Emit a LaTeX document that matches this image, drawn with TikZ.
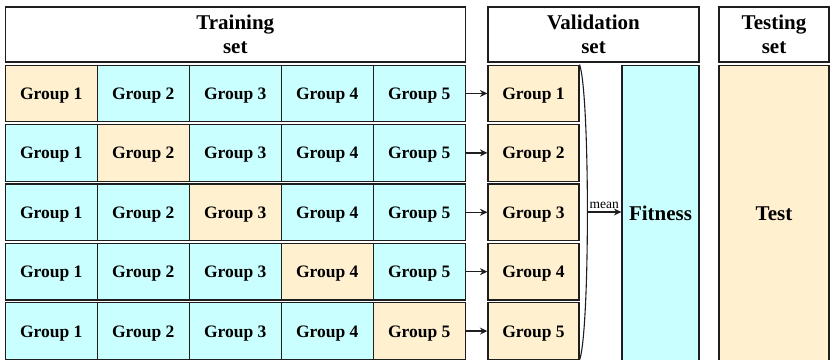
\documentclass[tikz,border=0pt]{standalone}
\usepackage{fontspec}
\setmainfont{Liberation Serif}
\usetikzlibrary{arrows.meta}
\definecolor{peach}{HTML}{FFF0CF}
\definecolor{aqua}{HTML}{C9FFFF}
\definecolor{edge}{HTML}{1E1E1E}
\begin{document}
\begin{tikzpicture}[x=1pt,y=-1pt,
  cellbox/.style={draw=edge,line width=1.2pt,minimum width=92pt,minimum height=56.5pt,inner sep=0pt,
    text height=12pt,text depth=0pt,
    font=\fontsize{17.5}{20}\selectfont\bfseries},
  trn/.style={cellbox,fill=aqua},
  hold/.style={cellbox,fill=peach},
  headbox/.style={draw=edge,line width=1.2pt,inner sep=0pt,align=center,
    font=\fontsize{21}{23.5}\selectfont\bfseries},
  bigbox/.style={draw=edge,line width=1.2pt,inner sep=0pt,text height=14pt,text depth=0pt,
    font=\fontsize{21}{24}\selectfont\bfseries},
  conn/.style={line width=1.5pt,draw=edge,-{Stealth[length=7.5pt,width=7pt,inset=2.5pt]}}]
\useasboundingbox (0,0) rectangle (830,359);
% headers
\node[headbox,minimum width=460pt,minimum height=55pt] (hTrain) at (235.3,34.5) {Training\\set};
\node[headbox,minimum width=211pt,minimum height=55pt] (hVal) at (593.5,34.5) {Validation\\set};
\node[headbox,minimum width=110pt,minimum height=55pt] (hTest) at (774,34.5) {Testing\\set};
% rows
\foreach \r in {1,...,5}{
  \pgfmathsetmacro{\yc}{65.2+(\r-1)*59.4+28.25}
  \foreach \c in {1,...,5}{
    \pgfmathsetmacro{\xc}{5.3+(\c-1)*92+46}
    \ifnum\r=\c
      \node[hold] (t\r\c) at (\xc,\yc) {Group \c};
    \else
      \node[trn] (t\r\c) at (\xc,\yc) {Group \c};
    \fi
  }
  \node[hold,minimum width=91pt] (v\r) at (533.5,\yc) {Group \r};
  \draw[conn] (t\r5.east) -- (v\r.west);
}
% fitness and test
\node[bigbox,fill=aqua,minimum width=77pt,minimum height=296pt] (fit) at (660.5,213.5) {Fitness};
\node[bigbox,fill=peach,minimum width=110pt,minimum height=296pt] (test) at (774,213.5) {Test};
% brace
\draw[edge,line width=1.1pt] (v1.north east) .. controls (590,95) and (590,330) .. (v5.south east);
\coordinate (bmid) at (587,212);
\draw[conn] (bmid) -- node[above,font=\fontsize{13.5}{15}\selectfont,inner sep=2.5pt]{mean} (fit.west |- bmid);
\end{tikzpicture}
\end{document}
